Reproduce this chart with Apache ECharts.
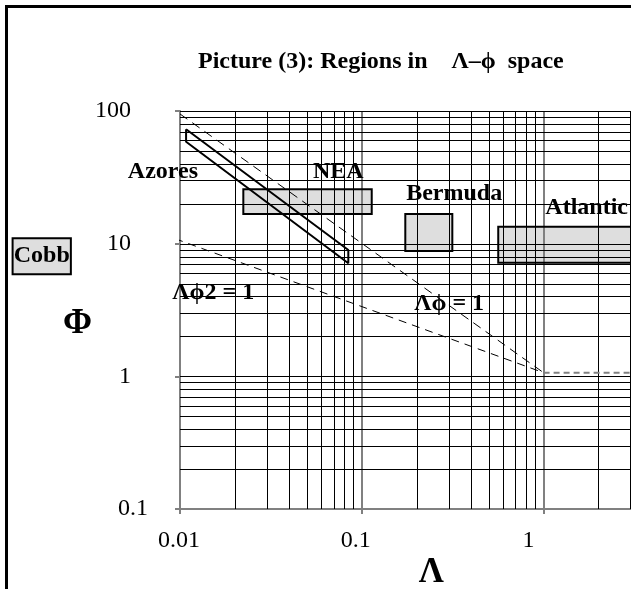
<!DOCTYPE html>
<html>
<head>
<meta charset="utf-8">
<script src="https://cdn.jsdelivr.net/npm/echarts@6/dist/echarts.min.js"></script>
<style>
html,body{margin:0;padding:0;background:#fff;}
#c{width:631px;height:589px;}
</style>
</head>
<body>
<div id="c"></div>
<script>
// ---- data ----
const xTickLabels = ['0.01', '0.1', '1', '10'];
const yTickLabels = ['0.1', '1', '10', '100'];

const boxNames      = ['NEA', 'Bermuda', 'Atlantic', 'Cobb'];
const boxLambdaMin  = [0.0223, 0.1735, 0.563, 0.0012];
const boxLambdaMax  = [0.1134, 0.3147, 10, 0.00251];
const boxPhiMin     = [16.7, 8.8, 7.19, 5.88];
const boxPhiMax     = [25.7, 16.7, 13.4, 10.98];

const azoresLambda  = [0.0108, 0.0108, 0.0843, 0.0843, 0.0108];
const azoresPhi     = [72.8, 58.7, 7.11, 8.96, 72.8];

const lambdaPhiLambda  = [0.01, 1];      // Λϕ = 1
const lambdaPhiPhi     = [95, 1.065];
const lambdaPhi2Lambda = [0.0094, 1];    // Λϕ2 = 1
const lambdaPhi2Phi    = [10.9, 1.065];
const floorLambda      = [1, 10];
const floorPhi         = [1.065, 1.065];

const labelTexts  = ['Azores', 'NEA', 'Bermuda', 'Atlantic', 'Λϕ2 = 1', 'Λϕ = 1'];
const labelLambda = [0.00806, 0.0743, 0.3223, 1.726, 0.01524, 0.3025];
const labelPhi    = [34.7, 34.7, 23.6, 18.7, 4.26, 3.55];

// ---- helpers ----
const FONT = "'Liberation Serif','Times New Roman',serif";
const minorX = [], minorY = [];
[-2, -1, 0].forEach(k => { for (let m = 2; m <= 9; m++) minorX.push(+(m * Math.pow(10, k)).toPrecision(3)); });
[-1, 0, 1].forEach(k => { for (let m = 2; m <= 9; m++) minorY.push(+(m * Math.pow(10, k)).toPrecision(3)); });
const majorX = [0.1, 1];
const majorY = [1, 10, 100];

const vLines = minorX.map(v => [v, 1, 0]).concat(majorX.map(v => [v, 1, 1]));
const hLines = minorY.map(v => [1, v, 0]).concat(majorY.map(v => [1, v, 1]));

function fmtTick(v) { return v >= 1 ? String(Math.round(v)) : String(+v.toPrecision(1)); }

const xShift = {'0.01': 'a', '0.1': 'b', '1': 'c', '10': 'd'};
const yShift = {'0.1': 'b', '1': 'a', '10': 'a', '100': 'a'};

const boxData = boxNames.map((n, i) => ({
  name: n,
  value: [boxLambdaMin[i], boxPhiMin[i], boxLambdaMax[i], boxPhiMax[i]]
}));

function rectOf(api) {
  const a = api.coord([api.value(0), api.value(3)]);
  const b = api.coord([api.value(2), api.value(1)]);
  return {x: a[0], y: a[1], width: b[0] - a[0], height: b[1] - a[1]};
}

const chart = echarts.init(document.getElementById('c'), null, {renderer: 'canvas'});

chart.setOption({
  backgroundColor: '#fff',
  animation: false,
  title: {
    text: 'Picture (3): Regions in    Λ–ϕ  space',
    left: 193, top: 45,
    textStyle: {fontFamily: FONT, fontWeight: 'bold', fontSize: 24, color: '#000'}
  },
  graphic: [{
    type: 'rect', silent: true, z: 100,
    shape: {x: 6.5, y: 6.5, width: 900, height: 900},
    style: {fill: 'none', stroke: '#000', lineWidth: 3}
  }],
  grid: {left: 180, top: 111, width: 545.4, height: 398, containLabel: false, outerBoundsMode: 'none'},
  xAxis: {
    type: 'log', logBase: 10, min: 0.01, max: 10,
    axisLine: {show: true, onZero: false, lineStyle: {color: '#808080', width: 2}},
    axisTick: {show: true, length: 5, lineStyle: {color: '#808080', width: 2}},
    splitLine: {show: false},
    minorTick: {show: false},
    axisLabel: {
      margin: 20, color: '#000', fontFamily: FONT, fontSize: 24,
      formatter: v => { const s = fmtTick(v); return '{' + (xShift[s] || 'd') + '|' + s + '}'; },
      rich: {
        a: {fontFamily: FONT, fontSize: 24, color: '#000', padding: [0, 2, 0, 0]},
        b: {fontFamily: FONT, fontSize: 24, color: '#000', padding: [0, 12, 0, 0]},
        c: {fontFamily: FONT, fontSize: 24, color: '#000', padding: [0, 30, 0, 0]},
        d: {fontFamily: FONT, fontSize: 24, color: '#000'}
      }
    },
    name: 'Λ', nameLocation: 'middle', nameGap: 46, nameMoveOverlap: false,
    nameTextStyle: {fontFamily: FONT, fontWeight: 'bold', fontSize: 35, color: '#000', padding: [0, 43, 0, 0]}
  },
  yAxis: {
    type: 'log', logBase: 10, min: 0.1, max: 100,
    axisLine: {show: true, onZero: false, lineStyle: {color: '#808080', width: 2}},
    axisTick: {show: true, length: 5, lineStyle: {color: '#808080', width: 2}},
    splitLine: {show: false},
    minorTick: {show: false},
    axisLabel: {
      margin: 32, color: '#000', fontFamily: FONT, fontSize: 24,
      formatter: v => { const s = fmtTick(v); return '{' + (yShift[s] || 'a') + '|' + s + '}'; },
      rich: {
        a: {fontFamily: FONT, fontSize: 24, color: '#000', padding: [0, 17, 0, 0]},
        b: {fontFamily: FONT, fontSize: 24, color: '#000'}
      }
    },
    name: 'Φ', nameLocation: 'middle', nameRotate: 0, nameGap: 88, nameMoveOverlap: false,
    nameTextStyle: {fontFamily: FONT, fontWeight: 'bold', fontSize: 35, color: '#000',
      verticalAlign: 'top', lineHeight: 28}
  },
  series: [
    {
      name: 'regions-fill', type: 'custom', z: 1, clip: false, silent: true,
      encode: {x: [0, 2], y: [1, 3]},
      data: boxData,
      renderItem: (params, api) => ({
        type: 'rect', shape: rectOf(api), style: {fill: '#dedede', stroke: null}
      })
    },
    {
      name: 'grid-v', type: 'custom', z: 2, silent: true,
      encode: {x: 0, y: 1},
      data: vLines,
      renderItem: (params, api) => {
        const v = api.value(0), major = api.value(2) === 1;
        const t = api.coord([v, 100]), b = api.coord([v, 0.1]);
        const x = major ? Math.round(t[0]) : Math.round(t[0]) + 0.5;
        return {type: 'line', shape: {x1: x, y1: t[1], x2: x, y2: b[1]},
          style: {stroke: major ? '#808080' : '#000', lineWidth: major ? 2 : 1}};
      }
    },
    {
      name: 'grid-h', type: 'custom', z: 2, silent: true,
      encode: {x: 0, y: 1},
      data: hLines,
      renderItem: (params, api) => {
        const v = api.value(1);
        const l = api.coord([0.01, v]), r = api.coord([10, v]);
        const y = Math.round(l[1]) + 0.5;
        return {type: 'line', shape: {x1: l[0], y1: y, x2: r[0], y2: y},
          style: {stroke: '#000', lineWidth: 1}};
      }
    },
    {
      name: 'regions', type: 'custom', z: 3, clip: false, silent: true,
      encode: {x: [0, 2], y: [1, 3]},
      data: boxData,
      renderItem: (params, api) => {
        const r = rectOf(api);
        const children = [{type: 'rect', shape: r, style: {fill: 'none', stroke: '#000', lineWidth: 2}}];
        if (boxNames[params.dataIndex] === 'Cobb') {
          children.push({type: 'text', x: r.x + r.width / 2, y: r.y + r.height / 2,
            style: {text: 'Cobb', fontFamily: FONT, fontWeight: 'bold', fontSize: 24, fill: '#000',
              align: 'center', verticalAlign: 'middle'}});
        }
        return {type: 'group', children: children};
      }
    },
    {
      name: 'Azores', type: 'line', z: 3, clip: false, silent: true, symbol: 'none',
      data: azoresLambda.map((l, i) => [l, azoresPhi[i]]),
      lineStyle: {color: '#000', width: 2}
    },
    {
      name: 'Λϕ = 1', type: 'line', z: 4, clip: false, silent: true, symbol: 'none',
      data: lambdaPhiLambda.map((l, i) => [l, lambdaPhiPhi[i]]),
      lineStyle: {color: '#000', width: 1, type: [9, 6]}
    },
    {
      name: 'Λϕ2 = 1', type: 'line', z: 4, clip: false, silent: true, symbol: 'none',
      data: lambdaPhi2Lambda.map((l, i) => [l, lambdaPhi2Phi[i]]),
      lineStyle: {color: '#000', width: 1, type: [8, 6]}
    },
    {
      name: 'floor', type: 'line', z: 4, clip: false, silent: true, symbol: 'none',
      data: floorLambda.map((l, i) => [l, floorPhi[i]]),
      lineStyle: {color: '#808080', width: 2, type: [6, 4]}
    },
    {
      name: 'labels', type: 'scatter', z: 5, clip: false, silent: true, symbolSize: 0,
      itemStyle: {color: '#000', opacity: 0},
      data: labelTexts.map((t, i) => ({name: t, value: [labelLambda[i], labelPhi[i]]})),
      label: {show: true, position: 'inside', formatter: p => p.name,
        fontFamily: FONT, fontWeight: 'bold', fontSize: 24, color: '#000',
        textBorderWidth: 0, textBorderColor: 'transparent', opacity: 1}
    }
  ]
});
</script>
</body>
</html>
